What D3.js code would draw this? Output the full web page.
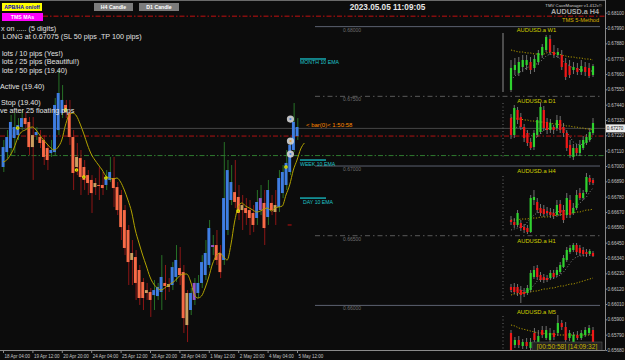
<!DOCTYPE html>
<html><head><meta charset="utf-8">
<script src="https://cdn.jsdelivr.net/npm/d3@7"></script>
<style>html,body{margin:0;padding:0;background:#0c0c0c;overflow:hidden}svg{display:block}</style>
</head><body><svg id="c" width="625" height="360"></svg>
<script>
// ---------- MAIN H4 CHART DATA (AUDUSD.a, Heiken-Ashi style bars) ----------
const openP = [0.66993,0.67100,0.67129,0.67201,0.67222,0.67280,0.67344,0.67316,0.67222,0.67222,
0.67208,0.67187,0.67129,0.67093,0.67100,0.67258,0.67380,0.67438,0.67380,0.67208,
0.67065,0.67057,0.66993,0.66935,0.66900,0.66878,0.66864,0.66864,0.66864,0.66900,
0.66914,0.66849,0.66792,0.66684,0.66541,0.66376,0.66347,0.66254,0.66168,0.66110,
0.66096,0.66074,0.66067,0.66096,0.66161,0.66153,0.66146,0.66204,0.66268,0.66239,
0.66089,0.65967,0.66039,0.66089,0.66161,0.66218,0.66290,0.66419,0.66433,0.66376,
0.66326,0.66541,0.66756,0.66813,0.66778,0.66720,0.66699,0.66684,0.66663,0.66627,
0.66684,0.66735,0.66634,0.66735,0.66720,0.66706,0.66806,0.66864,0.66957,0.67115,
0.67215];
const closeP = [0.67136,0.67208,0.67316,0.67280,0.67294,0.67344,0.67301,0.67136,0.67136,0.67244,
0.67165,0.67065,0.67043,0.67115,0.67438,0.67524,0.67474,0.67387,0.67208,0.66950,
0.66993,0.66921,0.66900,0.66878,0.66806,0.66849,0.66857,0.66842,0.66921,0.66957,
0.66842,0.66684,0.66562,0.66412,0.66311,0.66326,0.66161,0.66053,0.66053,0.66089,
0.66039,0.66110,0.66132,0.66204,0.66139,0.66132,0.66275,0.66326,0.66218,0.65909,
0.65859,0.66089,0.66161,0.66161,0.66311,0.66376,0.66555,0.66433,0.66326,0.66239,
0.66770,0.66971,0.66885,0.66742,0.66663,0.66684,0.66663,0.66627,0.66577,0.66742,
0.66770,0.66555,0.66828,0.66684,0.66670,0.66914,0.66957,0.67022,0.67151,0.67316,
0.67280];
const highP = [0.67187,0.67258,0.67366,0.67380,0.67344,0.67402,0.67387,0.67352,0.67352,0.67280,
0.67258,0.67222,0.67151,0.67187,0.67488,0.67689,0.67581,0.67474,0.67474,0.67258,
0.67165,0.67115,0.67043,0.66971,0.66935,0.66914,0.66993,0.66957,0.66971,0.67065,
0.67065,0.66885,0.66828,0.66720,0.66577,0.66469,0.66397,0.66290,0.66196,0.66161,
0.66125,0.66182,0.66161,0.66361,0.66290,0.66196,0.66311,0.66433,0.66419,0.66290,
0.66110,0.66125,0.66196,0.66218,0.66361,0.66469,0.66613,0.66505,0.66541,0.66433,
0.67172,0.67043,0.67007,0.67043,0.66864,0.66792,0.66770,0.66756,0.66720,0.66828,
0.66864,0.66828,0.66900,0.66792,0.66828,0.66971,0.67007,0.67115,0.67201,0.67452,
0.67344];
const lowP = [0.66957,0.67057,0.67079,0.67093,0.67187,0.67258,0.67273,0.67079,0.66900,0.67187,
0.67129,0.67007,0.66971,0.67065,0.67079,0.67222,0.67344,0.67344,0.67151,0.66828,
0.66935,0.66792,0.66828,0.66792,0.66663,0.66792,0.66756,0.66792,0.66828,0.66885,
0.66706,0.66648,0.66469,0.66361,0.66146,0.66146,0.66039,0.66003,0.65967,0.66039,
0.65917,0.65967,0.66039,0.65967,0.66039,0.66096,0.66110,0.66168,0.66146,0.65802,
0.65737,0.65931,0.66003,0.66053,0.66125,0.66182,0.66268,0.66361,0.66290,0.66196,
0.66290,0.66505,0.66720,0.66699,0.66613,0.66541,0.66577,0.66505,0.66526,0.66577,
0.66648,0.66433,0.66577,0.66648,0.66577,0.66670,0.66770,0.66828,0.66935,0.67100,
0.67187];
const emaP = [0.67029,0.67043,0.67079,0.67129,0.67201,0.67244,0.67258,0.67273,0.67280,0.67258,
0.67222,0.67187,0.67158,0.67129,0.67115,0.67136,0.67187,0.67294,0.67366,0.67380,
0.67359,0.67301,0.67230,0.67151,0.67086,0.67043,0.67007,0.66971,0.66928,0.66914,
0.66907,0.66914,0.66885,0.66828,0.66756,0.66670,0.66541,0.66448,0.66361,0.66283,
0.66204,0.66153,0.66125,0.66110,0.66125,0.66146,0.66161,0.66182,0.66211,0.66225,
0.66225,0.66175,0.66082,0.66053,0.66067,0.66125,0.66204,0.66297,0.66354,0.66376,
0.66347,0.66326,0.66433,0.66598,0.66706,0.66735,0.66713,0.66699,0.66684,0.66670,
0.66677,0.66691,0.66699,0.66677,0.66699,0.66706,0.66713,0.66792,0.66864,0.66971,
0.67043,0.67122,0.67165];
const neutralBars = [8,20,25,35,39,45,50,65,74];
const purpleBars = [52,57,70];
const signalIdx = [4,17,20,22,28,64,77];
const signalPrice = [0.67273,0.67402,0.66971,0.66921,0.66914,0.66677,0.66993];
const ringIdx = [78,78,78];
const ringPrice = [0.67086,0.67179,0.67337];
const slMarkIdx = 78, slPrice = 0.66577;

const tpPrice = 0.68075, stopPrice = 0.67215, entryPrice = 0.67075, bidPrice = 0.67270;
const roundLevels = [0.68, 0.675, 0.67, 0.665, 0.66];
const emaLevelNames = ['MONTH 10 EMA','WEEK 10 EMA','DAY 10 EMA'];
const emaLevelPrices = [0.67768, 0.67043, 0.66770];

const priceTicks = [0.68100,0.67990,0.67880,0.67770,0.67660,0.67550,0.67440,0.67330,0.67220,0.67110,
0.67000,0.66890,0.66780,0.66670,0.66560,0.66450,0.66340,0.66230,0.66120,0.66010,0.65900,0.65790,0.65680];
const timeIdx = [0,8,16,24,32,40,48,56,64,72,80];
const timeLabels = ['18 Apr 04:00','19 Apr 12:00','20 Apr 20:00','24 Apr 04:00','25 Apr 12:00','26 Apr 20:00','28 Apr 04:00','1 May 12:00','2 May 20:00','4 May 04:00','5 May 12:00'];

const infoLines = ['x on ..... (5 digits)',' LONG at 0.67075 (SL 50 pips ,TP 100 pips)','lots / 10 pips (Yes!)','lots / 25 pips (Beautiful!)','lots / 50 pips (19.40)','Active (19.40)','Stop (19.40)','ve after 25 floating pips'];

// ---------- MINI PANELS [open, close, high, low] ----------
const w1Candles = [[0.658,0.680,0.688,0.656],[0.678,0.683,0.690,0.673],[0.675,0.686,0.691,0.672],[0.681,0.688,0.693,0.676],[0.683,0.688,0.693,0.678],[0.686,0.678,0.691,0.674],[0.680,0.689,0.693,0.676],[0.686,0.695,0.698,0.683],[0.693,0.701,0.704,0.690],[0.698,0.711,0.713,0.696],[0.709,0.696,0.713,0.693],[0.696,0.693,0.703,0.690],[0.693,0.696,0.700,0.690],[0.693,0.681,0.698,0.678],[0.685,0.671,0.690,0.668],[0.682,0.673,0.688,0.670],[0.678,0.681,0.686,0.674],[0.680,0.676,0.685,0.673],[0.676,0.682,0.688,0.673],[0.681,0.676,0.686,0.672],[0.680,0.672,0.685,0.670],[0.673,0.682,0.684,0.671]];
const w1Ma = [0.698,0.697,0.696,0.696,0.695,0.695,0.694,0.694,0.693,0.695,0.696,0.695,0.694,0.693,0.692,0.691,0.691,0.690,0.690,0.689,0.689,0.688];
const w1Ma2 = [0.668,0.672,0.675,0.678,0.680,0.682,0.683,0.685,0.688,0.692,0.694,0.693,0.691,0.688,0.685,0.682,0.680,0.679,0.678,0.678,0.677,0.677];

const d1Candles = [[0.6740,0.6672,0.6756,0.6656],[0.6672,0.6780,0.6792,0.6660],[0.6772,0.6732,0.6784,0.6716],[0.6744,0.6704,0.6760,0.6692],[0.6704,0.6660,0.6716,0.6644],[0.6680,0.6640,0.6692,0.6628],[0.6644,0.6620,0.6660,0.6612],[0.6624,0.6680,0.6692,0.6612],[0.6672,0.6732,0.6744,0.6664],[0.6684,0.6784,0.6800,0.6676],[0.6772,0.6700,0.6788,0.6688],[0.6724,0.6692,0.6740,0.6676],[0.6692,0.6720,0.6736,0.6680],[0.6704,0.6692,0.6712,0.6676],[0.6700,0.6732,0.6752,0.6688],[0.6732,0.6692,0.6748,0.6680],[0.6704,0.6680,0.6720,0.6664],[0.6680,0.6620,0.6692,0.6608],[0.6632,0.6592,0.6652,0.6580],[0.6584,0.6620,0.6636,0.6572],[0.6620,0.6600,0.6636,0.6588],[0.6600,0.6632,0.6652,0.6588],[0.6620,0.6652,0.6668,0.6612],[0.6640,0.6664,0.6676,0.6632],[0.6652,0.6684,0.6700,0.6644],[0.6680,0.6720,0.6740,0.6672]];
const d1Ma = [0.6740,0.6740,0.6736,0.6736,0.6732,0.6732,0.6728,0.6728,0.6724,0.6724,0.6724,0.6720,0.6720,0.6716,0.6716,0.6712,0.6712,0.6708,0.6708,0.6704,0.6704,0.6700,0.6700,0.6696,0.6696,0.6692];
const d1Ma2 = [0.6692,0.6700,0.6704,0.6704,0.6696,0.6684,0.6672,0.6660,0.6664,0.6676,0.6692,0.6696,0.6700,0.6700,0.6704,0.6704,0.6700,0.6684,0.6664,0.6644,0.6636,0.6632,0.6636,0.6644,0.6652,0.6664];

const h4Candles = [[0.6645,0.6641,0.6653,0.6635],[0.6641,0.6635,0.6649,0.6629],[0.6635,0.6659,0.6665,0.6631],[0.6639,0.6629,0.6645,0.6623],[0.6631,0.6625,0.6637,0.6619],[0.6629,0.6621,0.6635,0.6617],[0.6621,0.6689,0.6695,0.6619],[0.6685,0.6691,0.6705,0.6675],[0.6681,0.6665,0.6689,0.6659],[0.6669,0.6659,0.6677,0.6653],[0.6667,0.6657,0.6675,0.6651],[0.6663,0.6659,0.6671,0.6653],[0.6661,0.6655,0.6669,0.6649],[0.6659,0.6653,0.6667,0.6647],[0.6655,0.6675,0.6685,0.6651],[0.6677,0.6659,0.6685,0.6653],[0.6665,0.6645,0.6675,0.6639],[0.6655,0.6689,0.6699,0.6649],[0.6685,0.6655,0.6695,0.6649],[0.6659,0.6669,0.6679,0.6655],[0.6669,0.6695,0.6705,0.6665],[0.6699,0.6689,0.6709,0.6685],[0.6689,0.6699,0.6705,0.6685],[0.6701,0.6731,0.6739,0.6697],[0.6729,0.6721,0.6735,0.6715],[0.6725,0.6719,0.6729,0.6715]];
const h4Ma = [0.6645,0.6645,0.6645,0.6647,0.6647,0.6647,0.6649,0.6649,0.6649,0.6651,0.6651,0.6651,0.6653,0.6653,0.6655,0.6655,0.6657,0.6657,0.6659,0.6659,0.6661,0.6661,0.6663,0.6665,0.6665,0.6667];
const h4Ma2 = [0.6625,0.6627,0.6629,0.6631,0.6633,0.6641,0.6649,0.6655,0.6659,0.6661,0.6661,0.6659,0.6659,0.6659,0.6661,0.6663,0.6663,0.6665,0.6667,0.6669,0.6673,0.6679,0.6685,0.6691,0.6701,0.6709];

const h1Candles = [[0.6693,0.6690,0.6696,0.6688],[0.6693,0.6688,0.6697,0.6686],[0.6693,0.6687,0.6696,0.6684],[0.6690,0.6685,0.6694,0.6677],[0.6688,0.6686,0.6692,0.6683],[0.6687,0.6692,0.6695,0.6685],[0.6690,0.6707,0.6710,0.6688],[0.6703,0.6710,0.6714,0.6701],[0.6712,0.6703,0.6715,0.6700],[0.6705,0.6700,0.6708,0.6698],[0.6703,0.6700,0.6706,0.6697],[0.6702,0.6700,0.6705,0.6698],[0.6702,0.6707,0.6710,0.6700],[0.6707,0.6703,0.6710,0.6701],[0.6705,0.6710,0.6713,0.6703],[0.6708,0.6715,0.6718,0.6706],[0.6713,0.6722,0.6725,0.6712],[0.6720,0.6730,0.6733,0.6718],[0.6728,0.6732,0.6735,0.6726],[0.6730,0.6735,0.6737,0.6728],[0.6735,0.6728,0.6737,0.6725],[0.6732,0.6727,0.6735,0.6724],[0.6730,0.6726,0.6733,0.6724],[0.6728,0.6726,0.6731,0.6723],[0.6726,0.6729,0.6731,0.6724],[0.6727,0.6724,0.6729,0.6723]];
const h1Ma = [0.6685,0.6686,0.6686,0.6687,0.6687,0.6688,0.6688,0.6689,0.6689,0.6690,0.6691,0.6691,0.6692,0.6692,0.6693,0.6694,0.6694,0.6695,0.6696,0.6696,0.6697,0.6698,0.6699,0.6700,0.6701,0.6702];
const h1Ma2 = [0.6688,0.6689,0.6690,0.6690,0.6689,0.6689,0.6691,0.6695,0.6699,0.6701,0.6701,0.6701,0.6702,0.6702,0.6703,0.6705,0.6708,0.6712,0.6717,0.6721,0.6723,0.6724,0.6724,0.6725,0.6725,0.6725];

const m5Candles = [[0.67274,0.67240,0.67280,0.67236],[0.67250,0.67260,0.67266,0.67244],[0.67260,0.67250,0.67268,0.67244],[0.67248,0.67256,0.67262,0.67242],[0.67256,0.67248,0.67264,0.67242],[0.67244,0.67256,0.67264,0.67240],[0.67274,0.67260,0.67284,0.67254],[0.67250,0.67268,0.67280,0.67244],[0.67280,0.67270,0.67288,0.67264],[0.67264,0.67280,0.67288,0.67260],[0.67260,0.67274,0.67284,0.67256],[0.67274,0.67266,0.67280,0.67260],[0.67274,0.67294,0.67310,0.67268],[0.67294,0.67286,0.67300,0.67280],[0.67286,0.67260,0.67296,0.67254],[0.67264,0.67274,0.67280,0.67258],[0.67254,0.67270,0.67276,0.67250],[0.67270,0.67264,0.67278,0.67260],[0.67264,0.67274,0.67280,0.67260],[0.67270,0.67280,0.67286,0.67266],[0.67274,0.67284,0.67290,0.67270],[0.67280,0.67240,0.67286,0.67236]];
const m5Ma = [0.67290,0.67288,0.67284,0.67282,0.67280,0.67278,0.67276,0.67274,0.67274,0.67272,0.67272,0.67272,0.67270,0.67270,0.67270,0.67270,0.67270,0.67270,0.67270,0.67270,0.67270,0.67270];

// ---------- DRAWING ----------
const FONT = '"Liberation Sans", Arial, Helvetica, sans-serif';
const svg = d3.select('#c');
svg.append('rect').attr('width',625).attr('height',360).attr('fill','#0c0c0c');
const defs = svg.append('defs');
defs.append('clipPath').attr('id','clipMain').append('rect').attr('x',0).attr('y',0).attr('width',605).attr('height',350);

const x = d3.scaleLinear().domain([0,80]).range([3,297]);
const y = d3.scaleLinear().domain([0.6568,0.6810]).range([350,12.7]);

const plot = svg.append('g').attr('clip-path','url(#clipMain)');

// top border
plot.append('line').attr('x1',0).attr('x2',605).attr('y1',0.5).attr('y2',0.5).attr('stroke','#6a6a6a');

// round number levels (right side)
roundLevels.forEach((lv,i)=>{
  plot.append('line').attr('x1',315).attr('x2',600).attr('y1',y(lv)).attr('y2',y(lv))
    .attr('stroke', i%2===0 ? '#5c6270' : '#5a5a5a').attr('stroke-width',1)
    .attr('stroke-dasharray', i%2===0 ? null : '5,3,1.5,3');
  plot.append('text').attr('x',343).attr('y',y(lv)+5).text(d3.format('.5f')(lv))
    .attr('fill','#6f6f6f').style('font-size','5px').style('font-family',FONT);
});

// horizontal trade lines
plot.append('line').attr('x1',0).attr('x2',605).attr('y1',y(bidPrice)).attr('y2',y(bidPrice)).attr('stroke','#474747');
plot.append('line').attr('x1',43).attr('x2',605).attr('y1',y(tpPrice)).attr('y2',y(tpPrice)).attr('stroke','#c01010').attr('stroke-dasharray','5,2,1.5,2');
plot.append('line').attr('x1',0).attr('x2',605).attr('y1',y(stopPrice)).attr('y2',y(stopPrice)).attr('stroke','#b01212').attr('stroke-dasharray','5,2,1.5,2');
plot.append('line').attr('x1',0).attr('x2',605).attr('y1',y(entryPrice)).attr('y2',y(entryPrice)).attr('stroke','#2f7a2f').attr('stroke-dasharray','5,2,1.5,2');

// EMA level markers
emaLevelNames.forEach((n,i)=>{
  const yy = y(emaLevelPrices[i]);
  plot.append('line').attr('x1',300).attr('x2',326).attr('y1',yy).attr('y2',yy).attr('stroke','#17c0c8').attr('stroke-width',1.3);
  plot.append('text').attr('x', i===2?303:300).attr('y',yy+5.5).text(n).attr('fill','#1fc4c8')
    .style('font-size','5.2px').style('font-family',FONT);
});

// main bars
const bars = openP.map((o,i)=>({i,o,c:closeP[i],h:highP[i],l:lowP[i]}));
function barColor(d){
  if (neutralBars.includes(d.i)) return '#c9a060';
  if (purpleBars.includes(d.i)) return '#9455c8';
  return d.c >= d.o ? '#3f7de2' : '#f76b47';
}
plot.selectAll('.wick').data(bars).join('line')
  .attr('x1',d=>x(d.i)+0.8).attr('x2',d=>x(d.i)+0.8)
  .attr('y1',d=>y(d.h)).attr('y2',d=>y(d.l))
  .attr('stroke',d=>d.c>=d.o?'#2a7d2a':'#9c1717').attr('stroke-width',0.9);
plot.selectAll('.body').data(bars).join('rect')
  .attr('x',d=>x(d.i)-1.4).attr('width',2.9)
  .attr('y',d=>y(Math.max(d.o,d.c)))
  .attr('height',d=>Math.max(1,Math.abs(y(d.o)-y(d.c))))
  .attr('fill',barColor);

// EMA line
const emaLine = d3.line().x((d,i)=>x(i)).y(d=>y(d)).curve(d3.curveMonotoneX);
plot.append('path').attr('d',emaLine(emaP)).attr('fill','none').attr('stroke','#b3a400').attr('stroke-width',1);

// signal dots
signalIdx.forEach((s,k)=>{
  plot.append('circle').attr('cx',x(s)).attr('cy',y(signalPrice[k])).attr('r',1.8).attr('fill','#e8e800');
  plot.append('circle').attr('cx',x(s)).attr('cy',y(signalPrice[k])).attr('r',0.6).attr('fill','#6a6a00');
});
// rings
ringIdx.forEach((s,k)=>{
  plot.append('circle').attr('cx',x(s)+0.8).attr('cy',y(ringPrice[k])).attr('r',3.6).attr('fill','#d4d4d4').attr('opacity',0.9);
  plot.append('circle').attr('cx',x(s)+0.8).attr('cy',y(ringPrice[k])).attr('r',1.1).attr('fill',k===1?'#e0a040':'#5080e0');
});
plot.append('line').attr('x1',x(slMarkIdx)-2).attr('x2',x(slMarkIdx)+2).attr('y1',y(slPrice)).attr('y2',y(slPrice)).attr('stroke','#c01010');

// bar(0) label
plot.append('text').attr('x',306).attr('y',y(bidPrice)-1.5).text('<  bar(0)<   1:50:58')
  .attr('fill','#ff8a00').style('font-size','6px').style('font-family',FONT);

// ---------- mini panels ----------
const panels = [
  {name:'AUDUSD.a W1', data:w1Candles, ma:w1Ma, ma2:w1Ma2, top:30, bottom:95, lo:0.653, hi:0.718, titleY:32, markTop:33, markBot:92, solid:true},
  {name:'AUDUSD.a D1', data:d1Candles, ma:d1Ma, ma2:d1Ma2, top:100, bottom:163, lo:0.6560, hi:0.6812, titleY:103, markTop:103, markBot:158},
  {name:'AUDUSD.a H4', data:h4Candles, ma:h4Ma, ma2:h4Ma2, top:172, bottom:236, lo:0.6613, hi:0.6741, titleY:173, markTop:176, markBot:232},
  {name:'AUDUSD.a H1', data:h1Candles, ma:h1Ma, ma2:h1Ma2, top:242, bottom:306, lo:0.6674, hi:0.6738, titleY:243, markTop:246, markBot:300},
  {name:'AUDUSD.a M5', data:m5Candles, ma:m5Ma, ma2:null, top:313, bottom:357, lo:0.67226, hi:0.67314, titleY:314, markTop:316, markBot:350}
];
panels.forEach(p=>{
  const py = d3.scaleLinear().domain([p.lo,p.hi]).range([p.bottom,p.top]);
  const px = d3.scaleLinear().domain([0,p.data.length-1]).range([511,593]);
  const g = plot.append('g');
  if (p.solid) g.append('rect').attr('x',502).attr('y',p.markTop).attr('width',2).attr('height',p.markBot-p.markTop).attr('fill','#4c4c4c');
  else g.append('line').attr('x1',503).attr('x2',503).attr('y1',p.markTop).attr('y2',p.markBot).attr('stroke','#6a6a6a').attr('stroke-dasharray','1,2.5');
  const ln = d3.line().x((d,i)=>px(i)).y(d=>py(d));
  g.append('path').attr('d',ln(p.ma)).attr('fill','none').attr('stroke','#b09a00').attr('stroke-dasharray','1.2,1.6');
  if (p.ma2) g.append('path').attr('d',ln(p.ma2)).attr('fill','none').attr('stroke','#bdbdbd').attr('stroke-width',0.8).attr('stroke-dasharray','0.8,2.2');
  g.selectAll('.mw').data(p.data).join('line')
    .attr('x1',(d,i)=>px(i)).attr('x2',(d,i)=>px(i)).attr('y1',d=>py(d[2])).attr('y2',d=>py(d[3]))
    .attr('stroke','#8c8c8c').attr('stroke-width',0.8);
  g.selectAll('.mb').data(p.data).join('rect')
    .attr('x',(d,i)=>px(i)-1.1).attr('width',2.2)
    .attr('y',d=>py(Math.max(d[0],d[1]))).attr('height',d=>Math.max(1,Math.abs(py(d[0])-py(d[1]))))
    .attr('fill',d=>d[1]>=d[0]?'#2fd22f':'#f01818');
  g.append('text').attr('x',536.5).attr('y',p.titleY).attr('text-anchor','middle').text(p.name)
    .attr('fill','#d0d000').style('font-size','5.8px').style('font-family',FONT);
});

// M5 time box
plot.append('rect').attr('x',532).attr('y',342).attr('width',70).attr('height',9).attr('fill','#222').attr('stroke','#555').attr('stroke-width',0.6);
plot.append('text').attr('x',567).attr('y',349).attr('text-anchor','middle').text('[00:50:58] [14:09:32]')
  .attr('fill','#c8b400').style('font-size','6.6px').style('font-family',FONT);

// ---------- axes ----------
svg.append('line').attr('x1',605.5).attr('x2',605.5).attr('y1',0).attr('y2',350).attr('stroke','#8a8a8a');
svg.append('line').attr('x1',0).attr('x2',605.5).attr('y1',350.5).attr('y2',350.5).attr('stroke','#8a8a8a');

const axR = d3.axisRight(y).tickValues(priceTicks).tickFormat(d3.format('.5f')).tickSize(1.5).tickSizeOuter(0).tickPadding(0.5);
svg.append('g').attr('transform','translate(605.5,0)').call(axR)
  .call(g=>g.select('.domain').remove())
  .call(g=>g.selectAll('line').attr('stroke','#8a8a8a'))
  .call(g=>g.selectAll('text').attr('fill','#c4c4c4').style('font-size','4.6px').style('font-family',FONT));

const axB = d3.axisBottom(x).tickValues(timeIdx).tickFormat((d,i)=>timeLabels[i]).tickSize(2.5).tickSizeOuter(0);
svg.append('g').attr('transform','translate(0,350.5)').call(axB)
  .call(g=>g.select('.domain').remove())
  .call(g=>g.selectAll('line').attr('stroke','#8a8a8a'))
  .call(g=>g.selectAll('text').attr('fill','#c4c4c4').attr('text-anchor','start').attr('x',1).attr('y',4)
    .style('font-size','4.5px').style('font-family',FONT));

// bid price box
svg.append('rect').attr('x',606).attr('y',y(bidPrice)-4).attr('width',19).attr('height',8).attr('fill','#ececec');
svg.append('text').attr('x',606.8).attr('y',y(bidPrice)+1.8).text(d3.format('.5f')(bidPrice)).attr('fill','#111')
  .style('font-size','4.6px').style('font-family',FONT);

// ---------- header texts ----------
svg.append('text').attr('x',387.5).attr('y',10).attr('text-anchor','middle').text('2023.05.05 11:09:05')
  .attr('fill','#e6e6e6').style('font-size','8.2px').style('font-weight','bold').style('font-family',FONT);
svg.append('text').attr('x',602).attr('y',6.5).attr('text-anchor','end').text('TMV CaveManager v1.412c©')
  .attr('fill','#cfcfcf').style('font-size','4.3px').style('font-family',FONT);
svg.append('text').attr('x',599).attr('y',14).attr('text-anchor','end').text('AUDUSD.a H4')
  .attr('fill','#a8a8a8').style('font-size','7.2px').style('font-weight','bold').style('font-family',FONT);
svg.append('text').attr('x',599).attr('y',22).attr('text-anchor','end').text('TMS 5-Method')
  .attr('fill','#d8b400').style('font-size','5.6px').style('font-family',FONT);

// buttons
const buttons = [
  {t:'APB/HA on/off', x:2, y:3, w:40, bg:'#ffff00', fg:'#0000c8'},
  {t:'TMS MAs', x:2, y:13, w:41, bg:'#ff00ff', fg:'#ffffff'},
  {t:'H4 Candle', x:94, y:3, w:39, bg:'#7c7c7c', fg:'#ffffff'},
  {t:'D1 Candle', x:139, y:3, w:40, bg:'#7c7c7c', fg:'#ffffff'}
];
buttons.forEach(b=>{
  svg.append('rect').attr('x',b.x).attr('y',b.y).attr('width',b.w).attr('height',8).attr('fill',b.bg);
  svg.append('text').attr('x',b.x+b.w/2).attr('y',b.y+6).attr('text-anchor','middle').text(b.t)
    .attr('fill',b.fg).style('font-size','5.2px').style('font-weight','bold').style('font-family',FONT);
});

// info text block
const infoY = [31.3,39.3,56,64.3,72.6,88.6,104.9,112.6];
const infoX = [1,0.5,2,2,2,0,1,0];
infoLines.forEach((t,i)=>{
  svg.append('text').attr('x',infoX[i]).attr('y',infoY[i]).text(t).attr('fill','#e2e2e2')
    .style('font-size','7.2px').style('font-family',FONT).attr('xml:space','preserve');
});
</script></body></html>
